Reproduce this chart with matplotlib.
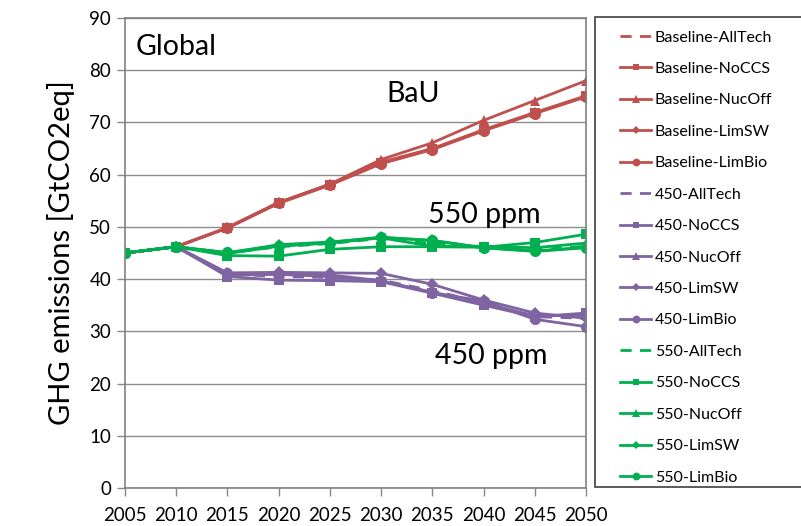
import matplotlib
matplotlib.use('Agg')
import matplotlib.pyplot as plt
from matplotlib.patches import Rectangle

plt.rcParams['font.family'] = ['Lato', 'DejaVu Sans']

years = [2005, 2010, 2015, 2020, 2025, 2030, 2035, 2040, 2045, 2050]
variants = ['AllTech', 'NoCCS', 'NucOff', 'LimSW', 'LimBio']

# Baseline (BaU) scenarios
base_alltech = [45.0, 46.2, 49.8, 54.6, 58.1, 62.2, 64.9, 68.5, 71.8, 75.0]
base_noccs   = [45.0, 46.2, 49.8, 54.6, 58.1, 62.2, 64.9, 68.5, 71.8, 75.0]
base_nucoff  = [45.0, 46.2, 49.9, 54.7, 58.2, 62.9, 66.1, 70.4, 74.2, 78.0]
base_limsw   = [45.0, 46.2, 49.8, 54.6, 58.1, 62.4, 65.0, 68.6, 71.9, 75.1]
base_limbio  = [45.0, 46.2, 49.8, 54.5, 58.0, 62.1, 64.8, 68.4, 71.7, 74.9]

# 450 ppm scenarios
p450_alltech = [45.0, 46.2, 41.0, 40.5, 40.3, 39.8, 37.8, 35.5, 32.8, 32.5]
p450_noccs   = [45.0, 46.2, 40.5, 39.8, 39.7, 39.5, 37.3, 35.0, 32.8, 33.5]
p450_nucoff  = [45.0, 46.2, 40.8, 40.9, 40.5, 39.6, 37.5, 35.3, 33.0, 33.1]
p450_limsw   = [45.0, 46.2, 41.2, 41.3, 41.2, 41.1, 39.0, 36.0, 33.5, 32.5]
p450_limbio  = [45.0, 46.2, 41.1, 41.0, 40.8, 39.7, 37.4, 35.8, 32.3, 30.9]

# 550 ppm scenarios
p550_alltech = [45.0, 46.2, 45.0, 46.2, 46.8, 47.8, 46.8, 46.1, 45.6, 46.3]
p550_noccs   = [45.0, 46.2, 44.5, 44.4, 45.7, 46.2, 46.2, 46.1, 47.0, 48.6]
p550_nucoff  = [45.0, 46.2, 44.9, 46.3, 46.9, 47.9, 46.3, 46.3, 46.0, 46.9]
p550_limsw   = [45.0, 46.2, 45.0, 46.6, 47.1, 48.0, 47.4, 46.0, 45.4, 46.1]
p550_limbio  = [45.0, 46.2, 45.1, 46.4, 47.0, 48.0, 47.4, 46.0, 45.3, 46.0]

groups = [
    ('Baseline', '#C0504D', [base_alltech, base_noccs, base_nucoff, base_limsw, base_limbio]),
    ('450', '#8064A2', [p450_alltech, p450_noccs, p450_nucoff, p450_limsw, p450_limbio]),
    ('550', '#00B050', [p550_alltech, p550_noccs, p550_nucoff, p550_limsw, p550_limbio]),
]
markers = [None, 's', '^', 'D', 'o']
msizes = [0, 7, 7.5, 6, 8]

fig = plt.figure(figsize=(8.01, 5.26), dpi=100)
ax = fig.add_axes([125 / 801, 38 / 526, 461 / 801, 470 / 526])

for prefix, color, series in groups:
    for name, vals, mk, ms in zip(variants, series, markers, msizes):
        if mk is None:
            ax.plot(years, vals, color=color, linestyle=(0, (4, 3)), linewidth=2,
                    label=f'{prefix}-{name}')
        else:
            ax.plot(years, vals, color=color, linewidth=2, marker=mk, markersize=ms,
                    markeredgewidth=0, label=f'{prefix}-{name}')

ax.set_xlim(2005, 2050)
ax.set_ylim(0, 90)
ax.set_xticks(years)
ax.set_yticks(range(0, 91, 10))
ax.tick_params(axis='both', labelsize=13.5, colors='black', length=6, width=1,
               direction='out')
ax.tick_params(axis='x', color='#888888', pad=8)
ax.tick_params(axis='y', color='#888888', pad=4)
ax.grid(axis='y', color='#8c8c8c', linewidth=1)
ax.set_axisbelow(True)
for s in ax.spines.values():
    s.set_color('#808080')
    s.set_linewidth(1.2)

ax.set_ylabel('GHG emissions [GtCO2eq]', fontsize=21, labelpad=10)

ax.text(2006, 84.5, 'Global', fontsize=20.5, va='center', ha='left')
ax.text(2030.5, 75.5, 'BaU', fontsize=20.5, va='center', ha='left')
ax.text(2034.6, 52.3, '550 ppm', fontsize=20.5, va='center', ha='left')
ax.text(2035.3, 25.3, '450 ppm', fontsize=20.5, va='center', ha='left')

# legend box running off the right edge
fig.patches.append(Rectangle((595 / 801, 39 / 526), 300 / 801, 470 / 526,
                             transform=fig.transFigure, facecolor='white',
                             edgecolor='#404040', linewidth=1.2, zorder=0))
fig.legend(loc='upper left', bbox_to_anchor=(614 / 801, 1 - 24 / 526),
           frameon=False, fontsize=11.5, labelspacing=1.08, handlelength=1.9,
           handletextpad=0.25, markerscale=0.7, borderaxespad=0)

fig.savefig('out.png', dpi=100)
